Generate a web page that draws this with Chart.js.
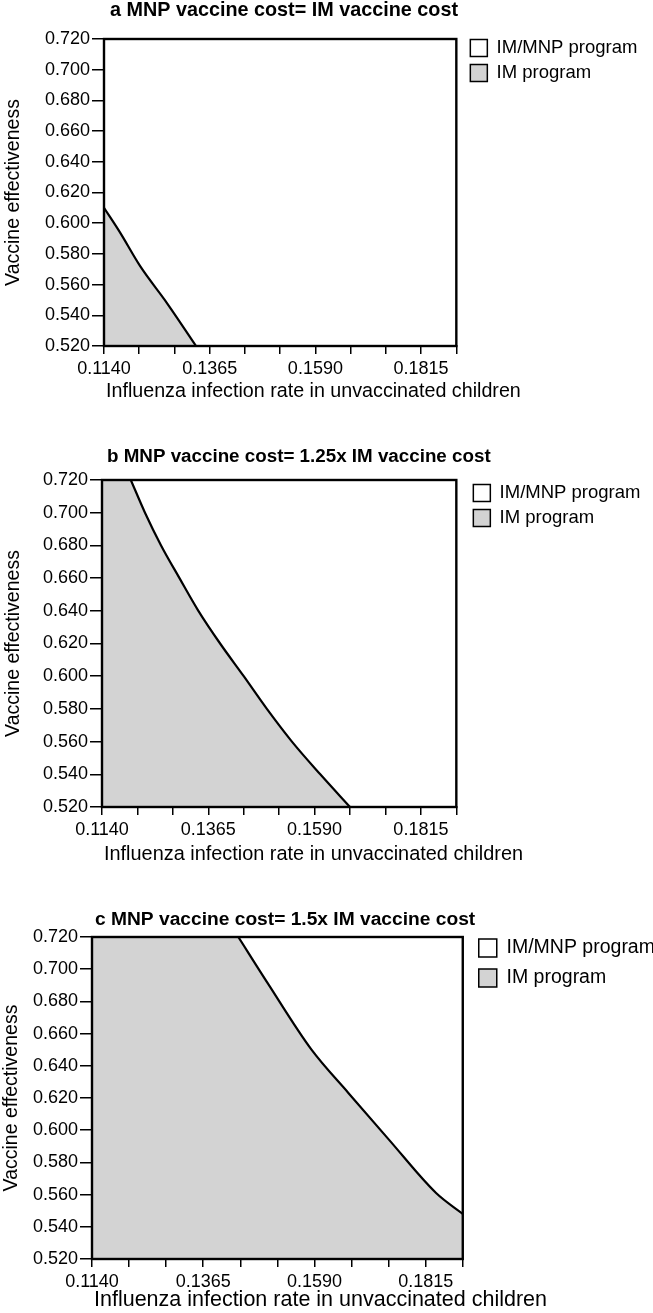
<!DOCTYPE html>
<html>
<head>
<meta charset="utf-8">
<script src="https://cdn.jsdelivr.net/npm/chart.js@4/dist/chart.umd.min.js"></script>
<style>
  html, body { margin: 0; padding: 0; background: #fff; }
  #page { position: relative; width: 653px; height: 1313px; overflow: hidden; }
  canvas { position: absolute; left: 0; }
</style>
</head>
<body>
<div id="page">
  <canvas id="chartA"></canvas>
  <canvas id="chartB"></canvas>
  <canvas id="chartC"></canvas>
</div>
<script>
const panelTitles = [
  'a MNP vaccine cost= IM vaccine cost',
  'b MNP vaccine cost= 1.25x IM vaccine cost',
  'c MNP vaccine cost= 1.5x IM vaccine cost'
];
const xTitle = 'Influenza infection rate in unvaccinated children';
const yTitle = 'Vaccine effectiveness';
const legendNames = ['IM/MNP program', 'IM program'];
const legendColors = ['#ffffff', '#d3d3d3'];

const xTicks = [0.1140, 0.1215, 0.1290, 0.1365, 0.1440, 0.1515, 0.1590, 0.1665, 0.1740, 0.1815, 0.1890];
const xTickLabels = ['0.1140', '', '', '0.1365', '', '', '0.1590', '', '', '0.1815', ''];
const yTicks = [0.52, 0.54, 0.56, 0.58, 0.60, 0.62, 0.64, 0.66, 0.68, 0.70, 0.72];
const yTickLabels = ['0.520', '0.540', '0.560', '0.580', '0.600', '0.620', '0.640', '0.660', '0.680', '0.700', '0.720'];

// threshold line between IM and IM/MNP regions
const boundaryA_x = [0.1140, 0.1174, 0.1217, 0.1274, 0.1336];
const boundaryA_y = [0.610, 0.594, 0.572, 0.548, 0.520];
const boundaryB_x = [0.1201, 0.1231, 0.1265, 0.1304, 0.1344, 0.1390, 0.1440, 0.1489, 0.1542, 0.1602, 0.1665];
const boundaryB_y = [0.720, 0.700, 0.680, 0.660, 0.640, 0.620, 0.600, 0.580, 0.560, 0.540, 0.520];
const boundaryC_x = [0.1436, 0.1496, 0.1584, 0.1659, 0.1741, 0.1836, 0.1890];
const boundaryC_y = [0.720, 0.691, 0.650, 0.623, 0.594, 0.561, 0.548];

// page geometry of each panel
const panels = [
  { id: 'chartA', top: 0, height: 425, area: { left: 104, top: 39, right: 454, bottom: 346 },
    titleY: 11, titleX: 110, titleFont: 19.8, legendX: 468, legendY: 48, legendGap: 25, legendFont: 18.5, box: 17,
    xTitleFont: 19.7, xTitleDy: 46, yTitlePad: 18, xs: boundaryA_x, ys: boundaryA_y },
  { id: 'chartB', top: 430, height: 445, area: { left: 102, top: 480, right: 454, bottom: 807 },
    titleY: 457, titleX: 107, titleFont: 18.8, legendX: 471, legendY: 493, legendGap: 25, legendFont: 18.5, box: 17,
    xTitleFont: 19.9, xTitleDy: 48, yTitlePad: 16, xs: boundaryB_x, ys: boundaryB_y },
  { id: 'chartC', top: 885, height: 428, area: { left: 92, top: 937, right: 461, bottom: 1259 },
    titleY: 920, titleX: 95, titleFont: 19.2, legendX: 477, legendY: 948, legendGap: 30, legendFont: 19.5, box: 18,
    xTitleFont: 21.5, xTitleDy: 41, yTitlePad: 8, xs: boundaryC_x, ys: boundaryC_y }
];

const fontFamily = '"Liberation Sans", Arial, sans-serif';
Chart.defaults.font.family = fontFamily;
Chart.defaults.color = '#000';

const framePlugin = {
  id: 'frame',
  afterDatasetsDraw(chart) {
    const { ctx, chartArea: a } = chart;
    ctx.save();
    ctx.strokeStyle = '#000';
    ctx.lineWidth = 2.4;
    ctx.strokeRect(a.left, a.top, a.right - a.left, a.bottom - a.top);
    ctx.restore();
  }
};

// x axis title is wider than the plot, so it is drawn here without a maxWidth squeeze
const xTitlePlugin = {
  id: 'xTitle',
  afterDraw(chart, args, opts) {
    const { ctx, chartArea: a } = chart;
    ctx.save();
    ctx.font = opts.size + 'px ' + fontFamily;
    ctx.fillStyle = '#000';
    ctx.textAlign = 'left';
    ctx.textBaseline = 'middle';
    ctx.fillText(opts.text, a.left + 2, a.bottom + opts.dy);
    ctx.restore();
  }
};

// small shifts of title / legend boxes after layout
const boxNudge = {
  id: 'boxNudge',
  afterLayout(chart, args, opts) {
    const lg = chart.legend;
    if (lg) {
      lg.left += opts.legendDx;
      lg.right = chart.width;
      lg.top += opts.legendDy;
      lg.bottom += opts.legendDy + 20;
    }
    const t = chart.titleBlock;
    if (t) { t.left = opts.titleX; t.right = chart.width; }
  }
};

function buildCurve(xs, ys) {
  return xs.map((x, i) => ({ x, y: ys[i] }));
}

// grey block left of the curve when the curve starts on the top edge
function buildCorner(xs, ys) {
  const yMin = yTicks[0];
  const yMax = yTicks[yTicks.length - 1];
  if (ys[0] < yMax) return [];
  return [{ x: xTicks[0], y: yMax }, { x: xs[0], y: yMax }, { x: xs[0], y: yMin }];
}

function makeChart(p, i) {
  const canvas = document.getElementById(p.id);
  const w = 653;
  canvas.width = w;
  canvas.height = p.height;
  canvas.style.width = w + 'px';
  canvas.style.height = p.height + 'px';
  canvas.style.top = p.top + 'px';

  const area = {
    left: p.area.left, right: p.area.right,
    top: p.area.top - p.top, bottom: p.area.bottom - p.top
  };
  const titleGap = area.top - (p.titleY - p.top) - p.titleFont * 1.2 / 2;
  const itemH = Math.max(p.legendFont, p.box);
  const legPad = p.legendGap - itemH;

  const chart = new Chart(canvas, {
    type: 'line',
    data: {
      datasets: [{
        data: buildCurve(p.xs, p.ys),
        borderColor: '#000',
        borderWidth: 2.2,
        backgroundColor: legendColors[1],
        fill: 'start',
        pointRadius: 0,
        cubicInterpolationMode: 'monotone'
      }, {
        data: buildCorner(p.xs, p.ys),
        borderWidth: 2,
        borderColor: legendColors[1],
        backgroundColor: legendColors[1],
        fill: 'start',
        pointRadius: 0
      }]
    },
    options: {
      responsive: false,
      animation: false,
      layout: { padding: { left: 0, top: 0, right: 0, bottom: 0 } },
      plugins: {
        title: {
          display: true, text: panelTitles[i], align: 'start', color: '#000',
          font: { size: p.titleFont, weight: 'bold' },
          padding: { top: 0, bottom: titleGap }
        },
        legend: {
          position: 'right', align: 'start', fullSize: false, onClick: null,
          labels: {
            boxWidth: p.box, boxHeight: p.box, padding: legPad, color: '#000',
            font: { size: p.legendFont },
            generateLabels: () => legendNames.map((text, k) => ({
              text, fillStyle: legendColors[k], strokeStyle: '#000', lineWidth: 1.5,
              hidden: false, index: k, fontColor: '#000'
            }))
          }
        },
        tooltip: { enabled: false },
        boxNudge: {
          legendDx: p.legendX - (area.right + legPad),
          legendDy: (p.legendY - p.top) - (area.top + legPad + itemH / 2),
          titleX: p.titleX
        },
        xTitle: { text: xTitle, size: p.xTitleFont, dy: p.xTitleDy }
      },
      scales: {
        x: {
          type: 'linear', min: xTicks[0], max: xTicks[xTicks.length - 1],
          afterBuildTicks: s => { s.ticks = xTicks.map(v => ({ value: v })); },
          ticks: { autoSkip: false, maxRotation: 0, padding: 4, font: { size: 18 },
                   callback: (v, k) => xTickLabels[k] },
          grid: { drawOnChartArea: false, drawTicks: true, tickLength: 8, color: '#000', lineWidth: 1.5 },
          border: { display: true, color: '#000', width: 2 },
          title: { display: false }
        },
        y: {
          type: 'linear', min: yTicks[0], max: yTicks[yTicks.length - 1],
          afterBuildTicks: s => { s.ticks = yTicks.map(v => ({ value: v })); },
          ticks: { autoSkip: false, padding: 2, font: { size: 18 },
                   callback: (v, k) => yTickLabels[k] },
          grid: { drawOnChartArea: false, drawTicks: true, tickLength: 12, color: '#000', lineWidth: 1.5 },
          border: { display: true, color: '#000', width: 2 },
          title: { display: true, text: yTitle, font: { size: 19.5 }, padding: { top: 0, bottom: p.yTitlePad } }
        }
      }
    },
    plugins: [framePlugin, boxNudge, xTitlePlugin]
  });

  // move the plot box onto the measured position
  for (let n = 0; n < 2; n++) {
    const ca = chart.chartArea;
    const pad = chart.options.layout.padding;
    pad.left += area.left - ca.left;
    pad.top += area.top - ca.top;
    pad.right += ca.right - area.right;
    pad.bottom += ca.bottom - area.bottom;
    chart.update('none');
  }
  return chart;
}

panels.forEach(makeChart);
</script>
</body>
</html>
